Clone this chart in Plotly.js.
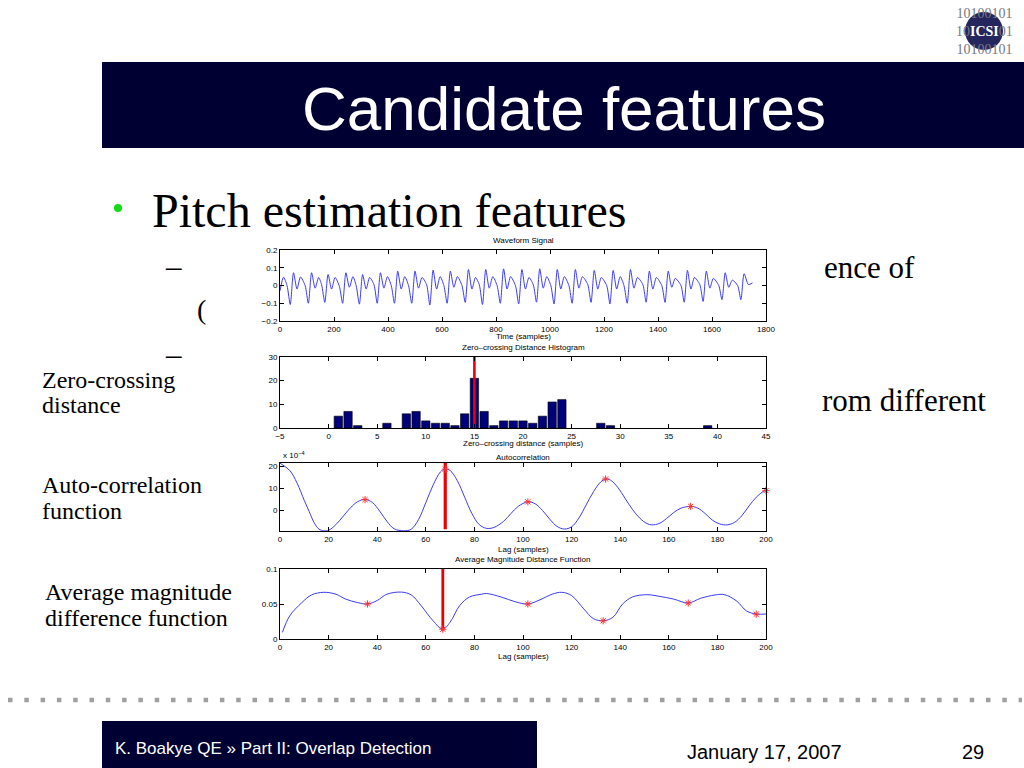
<!DOCTYPE html>
<html><head><meta charset="utf-8">
<script src="https://cdn.plot.ly/plotly-3.0.1.min.js"></script>
<style>html,body{margin:0;padding:0;background:#fff;overflow:hidden}#chart{width:1024px;height:768px}</style>
</head><body><div id="chart"></div>
<script>
// ---------- DATA ----------
const waveT = [0,13,26,
  38,50,63,76,93, 105,117,130,143,154, 166,178,191,204,220, 232,244,257,270,282,
  294,306,319,332,348, 360,372,385,398,412, 424,436,449,462,476, 488,500,513,526,543,
  555,567,580,593,607, 619,631,644,657,674, 686,698,711,724,738, 750,762,775,788,804,
  816,828,841,854,872, 884,896,909,922,938, 950,962,975,988,1003, 1015,1027,1040,1053,1070,
  1082,1094,1107,1120,1140, 1152,1164,1177,1190,1210, 1222,1234,1247,1260,1274, 1286,1298,1311,1324,1344,
  1356,1368,1381,1394,1414, 1426,1438,1451,1464,1485, 1497,1509,1522,1535,1555, 1567,1579,1592,1605,1625,
  1637,1649,1662,1675,1695, 1707,1719,1735,1750];
const waveV = [-0.03,0.047,0.0,
  -0.107,0.072,-0.02,0.048,0.0, -0.1,0.072,-0.015,0.045,0.005, -0.095,0.062,-0.02,0.045,-0.005, -0.1,0.072,-0.01,0.05,0.0,
  -0.105,0.062,-0.02,0.045,0.005, -0.1,0.072,-0.015,0.05,0.0, -0.1,0.081,-0.02,0.05,0.0, -0.1,0.081,-0.015,0.045,0.005,
  -0.11,0.087,-0.02,0.05,0.0, -0.1,0.081,-0.01,0.05,0.0, -0.095,0.09,-0.02,0.045,0.005, -0.107,0.09,-0.015,0.05,0.0,
  -0.1,0.094,-0.02,0.05,0.0, -0.104,0.09,-0.02,0.045,0.005, -0.094,0.094,-0.015,0.05,0.0, -0.104,0.09,-0.02,0.05,0.0,
  -0.1,0.09,-0.015,0.05,0.005, -0.095,0.085,-0.02,0.045,0.0, -0.104,0.085,-0.02,0.05,0.0, -0.1,0.09,-0.015,0.045,0.005,
  -0.094,0.081,-0.02,0.045,0.0, -0.095,0.081,-0.01,0.04,0.0, -0.094,0.085,-0.02,0.045,0.005, -0.09,0.081,-0.015,0.04,0.0,
  -0.08,0.072,-0.01,0.03,0.0, -0.08,0.066,0.005,0.015];

const histBins   = [1,2,3,6,8,9,10,11,12,13,14,15,16,17,18,19,20,21,22,23,24,28,29,39];
const histCounts = [5,7,1,2,6,7,3,2,2,1,6,21,7,1,3,3,3,2,5,11,12,2,1,1];
const zcPitch = 15;

const acfLag = [0,4,7,10,12,14,16,18,20,23,26,29,32,35,38,41,44,47,51,54,57,60,63,66,68,70,73,76,79,82,85,88,92,95,98,102,105,108,111,114,117,120,123,126,129,132,134,136,139,142,145,148,151,153,156,159,162,165,169,172,175,178,181,184,187,190,193,196,199,200];
const acfVal = [21.5,18.2,12.5,4.5,-0.5,-5.5,-8.5,-9.3,-9.1,-6.5,-2.7,1.2,4.0,5.0,3.6,-0.3,-5,-8.4,-9.3,-8.6,-4.2,3.5,11.5,17.5,18.9,18.2,13.5,6,-1.5,-6.5,-8.2,-7.8,-5,-1.5,1.8,3.9,3,0,-4,-7.3,-8.5,-7.5,-3.5,2.5,8.5,13,14.3,13.8,10.5,5.5,0.5,-3.5,-6,-6.6,-6,-3.8,-1,1,1.8,1,-1.5,-4.5,-6.2,-6.6,-5.5,-2.5,2,6,8.7,9];
const acfPeakLag = [35,68,102,134,169,200];
const acfPeakVal = [4.9,18.8,3.9,14.3,1.8,9.0];
const acfPitch = 68;
const acfYRange = [-9.4, 21.6];
const acfTicks = [0,10,20];

const amdfLag = [1,4,9,13,18,23,27,32,36,40,44,50,54,58,63,67,70,74,78,83,85,91,97,102,107,112,116,120,125,129,133,137,141,145,151,156,162,168,173,179,183,188,192,196,200];
const amdfVal = [0.0095,0.033,0.052,0.063,0.0667,0.064,0.057,0.052,0.05,0.055,0.064,0.067,0.063,0.048,0.026,0.014,0.024,0.048,0.06,0.064,0.065,0.06,0.053,0.05,0.056,0.064,0.0667,0.062,0.043,0.029,0.026,0.031,0.05,0.06,0.0633,0.061,0.057,0.0514,0.058,0.0629,0.0633,0.054,0.04,0.0357,0.0357];
const amdfDipLag = [36,67,102,133,168,196];
const amdfDipVal = [0.050,0.014,0.050,0.026,0.0514,0.0355];
const amdfPitch = 67;
const amdfTicks = [0,0.05,0.1];
const amdfTickText = ['0','0.05','0.1'];

// ---------- LAYOUT HELPERS ----------
const W = 1024, H = 768;
const px = x => x / W, py = y => 1 - y / H;
const dom = (top, bottom) => [1 - bottom / H, 1 - top / H];
const sans = 'Liberation Sans, Arial, Helvetica, sans-serif';
const serif = 'Liberation Serif, Times New Roman, serif';
const NAVY = '#000033';
const BLUE = '#3c3cf0';

const axBase = {
  showline: true, linecolor: '#000', linewidth: 1, mirror: 'ticks',
  ticks: 'inside', ticklen: 4, tickcolor: '#000', tickwidth: 1,
  showgrid: false, zeroline: false, fixedrange: true,
  tickfont: {family: sans, size: 8, color: '#000'}
};
const xd = [px(280), px(766)];

const traces = [
  {x: waveT, y: waveV, xaxis: 'x', yaxis: 'y', mode: 'lines', type: 'scatter',
   line: {color: BLUE, width: 1, shape: 'spline', smoothing: 0.7}},
  {x: histBins, y: histCounts, xaxis: 'x2', yaxis: 'y2', type: 'bar', width: 0.86,
   marker: {color: '#00007a', line: {color: '#000', width: 0.6}}},
  {x: [zcPitch, zcPitch], y: [0, 30], xaxis: 'x2', yaxis: 'y2', mode: 'lines', type: 'scatter',
   line: {color: '#ee0000', width: 2.6}},
  {x: acfLag, y: acfVal, xaxis: 'x3', yaxis: 'y3', mode: 'lines', type: 'scatter',
   line: {color: BLUE, width: 1, shape: 'spline', smoothing: 1}},
  {x: [acfPitch, acfPitch], y: [-8.6, acfYRange[1]], xaxis: 'x3', yaxis: 'y3', mode: 'lines', type: 'scatter',
   line: {color: '#ee0000', width: 3.2}},
  {x: acfPeakLag, y: acfPeakVal, xaxis: 'x3', yaxis: 'y3', mode: 'markers', type: 'scatter', cliponaxis: false,
   marker: {symbol: 'asterisk-open', size: 6, color: '#ff3030', line: {color: '#ff3030', width: 1}}},
  {x: amdfLag, y: amdfVal, xaxis: 'x4', yaxis: 'y4', mode: 'lines', type: 'scatter',
   line: {color: BLUE, width: 1, shape: 'spline', smoothing: 1}},
  {x: [amdfPitch, amdfPitch], y: [0.012, 0.1], xaxis: 'x4', yaxis: 'y4', mode: 'lines', type: 'scatter',
   line: {color: '#ee0000', width: 2.8}},
  {x: amdfDipLag, y: amdfDipVal, xaxis: 'x4', yaxis: 'y4', mode: 'markers', type: 'scatter', cliponaxis: false,
   marker: {symbol: 'asterisk-open', size: 6, color: '#ff3030', line: {color: '#ff3030', width: 1}}}
];

function txt(text, x, y, o = {}) {
  return Object.assign({
    text, x: px(x), y: py(y), xref: 'paper', yref: 'paper', showarrow: false,
    xanchor: o.xa || 'center', yanchor: o.ya || 'middle',
    font: {family: o.family || sans, size: o.size || 8, color: o.color || '#000'}
  }, o.extra || {});
}

const logoGray = 'rgb(120,120,130)';
const logoText = '10100101<br>10<span style="color:#ffffff;font-weight:bold">ICSI</span>01<br>10100101';

const annotations = [
  // subplot titles / axis labels
  txt('Waveform Signal', 523, 241),
  txt('Time (samples)', 523, 337),
  txt('Zero\u2013crossing Distance Histogram', 523, 347),
  txt('Zero\u2013crossing distance (samples)', 523, 443),
  txt('x 10<sup>\u22124</sup>', 281, 455, {xa: 'left'}),
  txt('Autocorrelation', 523, 457),
  txt('Lag (samples)', 523, 549),
  txt('Average Magnitude Distance Function', 523, 559),
  txt('Lag (samples)', 523, 656),
  // slide text
  txt('Candidate features', 564, 108, {size: 62, color: '#fff'}),
  txt('Pitch estimation features', 150, 211, {xa: 'left', size: 48, family: serif}),
  txt('\u2013', 163, 266, {xa: 'left', size: 31, family: serif}),
  txt('ence of', 822, 268, {xa: 'left', size: 31, family: serif}),
  txt('(', 195, 309, {xa: 'left', size: 28, family: serif}),
  txt('\u2013', 163, 355, {xa: 'left', size: 31, family: serif}),
  txt('rom different', 820, 400, {xa: 'left', size: 31, family: serif}),
  txt('Zero-crossing', 40, 380, {xa: 'left', size: 24, family: serif}),
  txt('distance', 40, 405, {xa: 'left', size: 24, family: serif}),
  txt('Auto-correlation', 40, 485, {xa: 'left', size: 24, family: serif}),
  txt('function', 40, 511, {xa: 'left', size: 24, family: serif}),
  txt('Average magnitude', 43, 592, {xa: 'left', size: 24, family: serif}),
  txt('difference function', 43, 618, {xa: 'left', size: 24, family: serif}),
  // logo
  txt(logoText, 984, 31, {size: 14, family: serif, color: logoGray}),
  // footer
  txt('K. Boakye QE \u00bb Part II: Overlap Detection', 113, 748, {xa: 'left', size: 17, color: '#fff'}),
  txt('January 17, 2007', 685, 752, {xa: 'left', size: 20}),
  txt('29', 973, 752, {size: 20})
];

const shapes = [
  {type: 'rect', xref: 'paper', yref: 'paper', x0: px(102), x1: px(1024), y0: py(148), y1: py(62),
   fillcolor: NAVY, line: {width: 0}, layer: 'below'},
  {type: 'circle', xref: 'paper', yref: 'paper', x0: px(114), x1: px(122), y0: py(212), y1: py(204),
   fillcolor: '#11dd11', line: {width: 0}},
  {type: 'line', xref: 'paper', yref: 'paper', x0: px(8), x1: px(1022), y0: py(700), y1: py(700),
   line: {color: '#a0a0a0', width: 4.5, dash: '4.5px,11.8px'}},
  {type: 'rect', xref: 'paper', yref: 'paper', x0: px(102), x1: px(537), y0: py(768), y1: py(721),
   fillcolor: NAVY, line: {width: 0}, layer: 'below'},
  {type: 'circle', xref: 'paper', yref: 'paper', x0: px(965), x1: px(1003), y0: py(50), y1: py(12),
   fillcolor: 'rgba(20,20,80,0.92)', line: {width: 0}}
];

const layout = {
  width: W, height: H, margin: {l: 0, r: 0, t: 0, b: 0},
  paper_bgcolor: '#fff', plot_bgcolor: '#fff', showlegend: false, bargap: 0,
  xaxis:  Object.assign({}, axBase, {domain: xd, anchor: 'y',  range: [0, 1800], dtick: 200}),
  yaxis:  Object.assign({}, axBase, {domain: dom(250, 321), anchor: 'x', range: [-0.2, 0.2], dtick: 0.1}),
  xaxis2: Object.assign({}, axBase, {domain: xd, anchor: 'y2', range: [-5, 45], dtick: 5}),
  yaxis2: Object.assign({}, axBase, {domain: dom(357, 428), anchor: 'x2', range: [0, 30], dtick: 10}),
  xaxis3: Object.assign({}, axBase, {domain: xd, anchor: 'y3', range: [0, 200], dtick: 20}),
  yaxis3: Object.assign({}, axBase, {domain: dom(463, 531), anchor: 'x3', range: acfYRange, tickvals: acfTicks}),
  xaxis4: Object.assign({}, axBase, {domain: xd, anchor: 'y4', range: [0, 200], dtick: 20}),
  yaxis4: Object.assign({}, axBase, {domain: dom(569, 639), anchor: 'x4', range: [0, 0.1], tickvals: amdfTicks, ticktext: amdfTickText}),
  annotations, shapes
};

Plotly.newPlot('chart', traces, layout, {staticPlot: true, displayModeBar: false});
</script></body></html>
